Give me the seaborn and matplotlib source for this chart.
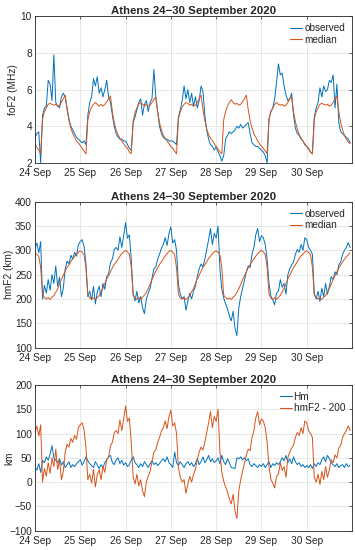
import numpy as np
import pandas as pd
import matplotlib
matplotlib.use("Agg")
import matplotlib.pyplot as plt
import seaborn as sns

nan = np.nan

# hourly values, one row per day (24 Sep ... 30 Sep 2020)
foF2_observed = [
    3.4, 3.6, 3.7, 2.0, 4.6, 5.0, 5.1, 6.5, 6.3, 5.4, 7.9, 5.3, 5.1, 5.0, 5.6, 5.8, 5.6, 5.0, 4.4, 4.0, 3.8, 3.6, 3.4, 3.3,
    3.2, 3.1, 3.2, 3.0, 4.6, 5.3, 5.6, 6.6, 6.2, 6.7, 5.8, 6.1, 5.6, 6.0, 6.5, 5.6, 5.3, 4.6, 4.0, 3.6, 3.4, 3.3, 3.3, 3.2,
    3.2, 3.0, 2.8, 2.7, 4.2, 4.5, 4.9, 5.3, 5.5, 4.6, 5.2, 5.4, 4.8, 5.3, 5.5, 7.1, 5.6, 4.8, 4.0, 3.6, 3.4, 3.3, 3.3, 3.2,
    3.2, 3.2, 3.1, 3.0, 4.5, 4.9, 5.4, 6.2, 5.5, 6.0, 5.3, 5.8, 5.1, 5.6, 5.0, 5.4, 6.2, 5.9, 4.6, 3.8, 3.3, 3.0, 2.9, 2.7,
    2.9, 2.6, 2.4, 2.1, 2.4, 3.3, 3.5, 3.7, 3.6, nan, 3.8, 4.0, 3.9, 4.1, 3.9, 4.0, 4.1, 4.2, 3.6, 3.1, 3.0, 2.9, 2.9, 2.8,
    2.7, 2.6, 2.4, 2.0, 4.4, 4.8, 5.0, 5.5, 6.4, 7.4, 6.8, 6.9, 6.2, 5.7, 5.4, 5.5, 5.8, 4.6, 3.9, 3.6, 3.5, 3.3, 3.2, 3.0,
    2.9, 2.8, 2.6, 2.5, 4.5, 5.0, 5.3, 6.1, 5.6, 6.2, 5.9, 6.0, 6.5, 6.4, 6.8, 5.0, 6.3, 4.2, 3.7, 3.6, 3.5, 3.4, 3.3, 3.1,
]
foF2_median = [
    3.0, 2.85, 2.7, 2.5, 4.4, 4.8, 5.0, 5.2, 5.25, 5.2, 5.15, 5.2, 5.1, 5.15, 5.3, 5.5, 5.7, 4.9, 4.3, 3.9, 3.6, 3.4, 3.2, 3.1,
    2.95, 2.8, 2.65, 2.5, 4.35, 4.8, 5.05, 5.2, 5.3, 5.2, 5.1, 5.2, 5.1, 5.2, 5.35, 5.5, 5.65, 4.8, 4.2, 3.8, 3.55, 3.35, 3.2, 3.05,
    2.9, 2.8, 2.6, 2.5, 4.3, 4.75, 5.0, 5.2, 5.3, 5.2, 5.1, 5.2, 5.1, 5.15, 5.3, 5.45, 5.6, 4.8, 4.2, 3.8, 3.5, 3.35, 3.2, 3.05,
    2.9, 2.8, 2.65, 2.5, 4.4, 4.8, 5.05, 5.2, 5.3, 5.25, 5.15, 5.2, 5.1, 5.15, 5.3, 5.5, 5.7, 4.9, 4.3, 3.85, 3.55, 3.35, 3.2, 3.05,
    2.9, 2.75, 2.6, 2.5, 4.35, 4.8, 5.1, 5.3, 5.45, 5.3, 5.2, 5.25, 5.15, 5.2, 5.35, 5.5, 5.7, 4.9, 4.3, 3.9, 3.6, 3.4, 3.2, 3.05,
    2.9, 2.8, 2.65, 2.5, 4.4, 4.8, 5.0, 5.2, 5.3, 5.2, 5.15, 5.2, 5.1, 5.15, 5.3, 5.5, 5.6, 4.8, 4.25, 3.85, 3.55, 3.35, 3.2, 3.05,
    2.9, 2.75, 2.6, 2.5, 4.4, 4.8, 5.0, 5.2, 5.25, 5.2, 5.15, 5.2, 5.1, 5.15, 5.3, 5.5, 5.65, 4.8, 4.2, 3.8, 3.5, 3.3, 3.15, 3.05,
]
hmF2_observed = [
    305, 315, 295, 318, 200, 228, 212, 240, 218, 250, 232, 268, 226, 245, 205, 222, 262, 278, 272, 290, 282, 296, 288, 312,
    318, 322, 308, 272, 205, 216, 198, 226, 190, 215, 226, 205, 232, 220, 246, 252, 275, 282, 302, 306, 300, 328, 306, 330,
    357, 325, 332, 282, 212, 196, 216, 192, 205, 182, 170, 200, 212, 222, 242, 262, 266, 282, 292, 305, 312, 326, 310, 335,
    348, 315, 322, 300, 230, 210, 200, 205, 177, 196, 212, 200, 216, 226, 246, 262, 272, 266, 282, 302, 322, 345, 312, 335,
    325, 350, 262, 220, 202, 190, 180, 165, 155, 175, 140, 125, 182, 205, 222, 240, 256, 268, 265, 292, 306, 332, 345, 318,
    330, 326, 312, 282, 232, 206, 198, 188, 212, 216, 240, 224, 232, 210, 250, 262, 270, 276, 292, 302, 296, 312, 300, 326,
    322, 306, 300, 292, 210, 200, 216, 195, 222, 205, 232, 210, 226, 246, 240, 256, 250, 270, 276, 292, 300, 306, 316, 306,
]
hmF2_median = [
    294, 292, 288, 265, 210, 203, 200, 203, 199, 204, 207, 214, 221, 231, 240, 249, 257, 265, 270, 277, 283, 288, 292, 296,
    299, 296, 291, 264, 209, 202, 200, 202, 199, 203, 207, 215, 222, 232, 241, 248, 256, 264, 271, 276, 282, 288, 293, 297,
    300, 297, 292, 266, 208, 203, 199, 203, 200, 204, 208, 214, 221, 231, 240, 249, 257, 264, 271, 277, 282, 289, 293, 298,
    300, 296, 291, 264, 210, 202, 200, 202, 199, 203, 207, 215, 222, 232, 241, 249, 257, 265, 270, 277, 283, 288, 293, 297,
    299, 296, 290, 265, 208, 203, 200, 202, 199, 204, 207, 214, 221, 230, 240, 248, 256, 264, 271, 277, 282, 288, 293, 297,
    300, 297, 291, 266, 210, 202, 199, 203, 200, 203, 208, 215, 222, 231, 241, 249, 257, 265, 270, 277, 283, 289, 292, 297,
    299, 296, 291, 265, 209, 203, 200, 202, 199, 204, 207, 214, 222, 231, 240, 248, 256, 264, 270, 276, 282, 287, 291, 295,
]
Hm = [
    30, 25, 38, 20, 45, 40, 52, 45, 58, 75, 50, 45, 40, 48, 35, 42, 30, 36, 42, 30, 36, 32, 38, 42,
    46, 35, 42, 52, 44, 38, 34, 30, 42, 35, 28, 36, 30, 40, 46, 52, 55, 40, 36, 46, 50, 38, 45, 35,
    40, 32, 36, 45, 52, 40, 36, 30, 38, 32, 42, 36, 30, 38, 44, 36, 40, 34, 38, 44, 48, 42, 52, 40,
    36, 30, 62, 40, 34, 42, 36, 30, 38, 42, 35, 40, 32, 38, 48, 36, 42, 52, 40, 46, 55, 42, 48, 40,
    44, 50, 38, 55, 42, 36, 48, 40, 30, nan, 28, 50, 48, 52, 46, 50, 44, 48, 36, 32, 38, 34, 30, 36,
    32, 38, 30, 36, 42, 30, 38, 34, 40, 36, 42, 50, 44, 55, 40, 48, 38, 52, 42, 36, 40, 32, 36, 30,
    34, 30, 36, 28, 38, 32, 40, 36, 46, 52, 42, 55, 48, 40, 36, 32, 38, 30, 34, 36, 30, 38, 32, 35,
]
day_labels = ["24 Sep", "25 Sep", "26 Sep", "27 Sep", "28 Sep", "29 Sep", "30 Sep"]

times = pd.date_range("2020-09-24 00:00", periods=len(foF2_observed), freq="h")
day_ticks = pd.date_range("2020-09-24", periods=len(day_labels), freq="D")
df = pd.DataFrame({
    "time": times,
    "foF2_obs": foF2_observed, "foF2_med": foF2_median,
    "hmF2_obs": hmF2_observed, "hmF2_med": hmF2_median,
    "Hm": Hm,
})
df["hmF2_200"] = df["hmF2_obs"] - 200

sns.set_style("whitegrid")
narrow = ["Liberation Sans Narrow", "Liberation Sans", "DejaVu Sans"]
plt.rcParams.update({
    "font.family": narrow,
    "axes.edgecolor": "#262626",
    "axes.linewidth": 0.6,
    "grid.color": "#e3e3e3",
    "grid.linewidth": 0.6,
    "xtick.direction": "in",
    "ytick.direction": "in",
    "xtick.color": "#262626",
    "ytick.color": "#262626",
    "text.color": "#262626",
})

blue = "#0072BD"
orange = "#D95319"
title = "Athens 24\u221230 September 2020"

fig = plt.figure(figsize=(3.55, 5.5), dpi=100)
ax1 = fig.add_axes([0.0986, 0.7036, 0.893, 0.267])
ax2 = fig.add_axes([0.0986, 0.3678, 0.893, 0.2655])
ax3 = fig.add_axes([0.0986, 0.0351, 0.893, 0.265])

lw = 0.7
sns.lineplot(data=df, x="time", y="foF2_obs", ax=ax1, color=blue, lw=lw, label="observed")
sns.lineplot(data=df, x="time", y="foF2_med", ax=ax1, color=orange, lw=lw, label="median")
sns.lineplot(data=df, x="time", y="hmF2_obs", ax=ax2, color=blue, lw=lw, label="observed")
sns.lineplot(data=df, x="time", y="hmF2_med", ax=ax2, color=orange, lw=lw, label="median")
sns.lineplot(data=df, x="time", y="Hm", ax=ax3, color=blue, lw=lw, label="Hm")
sns.lineplot(data=df, x="time", y="hmF2_200", ax=ax3, color=orange, lw=lw, label="hmF2 - 200")

settings = [
    (ax1, "foF2 (MHz)", (2, 10), [2, 4, 6, 8, 10], -0.054),
    (ax2, "hmF2 (km)", (100, 400), list(range(100, 401, 50)), -0.066),
    (ax3, "km", (-100, 200), list(range(-100, 201, 50)), -0.066),
]
for ax, ylab, ylim, yt, lx in settings:
    ax.set_xlim(pd.Timestamp("2020-09-24"), pd.Timestamp("2020-10-01"))
    ax.set_xticks(day_ticks)
    ax.set_xticklabels(day_labels)
    ax.set_ylim(*ylim)
    ax.set_yticks(yt)
    ax.set_xlabel("")
    ax.set_ylabel(ylab, fontsize=7.3, family=["Liberation Sans", "DejaVu Sans"])
    ax.yaxis.set_label_coords(lx, 0.5)
    ax.set_title(title, fontsize=8.2, fontweight="bold", pad=1.5)
    ax.tick_params(labelsize=7.3, length=2.5, width=0.5, top=True, right=True)
    ax.tick_params(axis="x", pad=3.5)
    ax.tick_params(axis="y", pad=2.2)
    for s in ax.spines.values():
        s.set_visible(True)
    leg = ax.legend(loc="upper right", frameon=False, fontsize=7.2, handlelength=1.2,
                    handletextpad=0.2, borderaxespad=0.3, labelspacing=0.15)
    for ln in leg.get_lines():
        ln.set_linewidth(0.8)

fig.savefig("out.png", dpi=100)
